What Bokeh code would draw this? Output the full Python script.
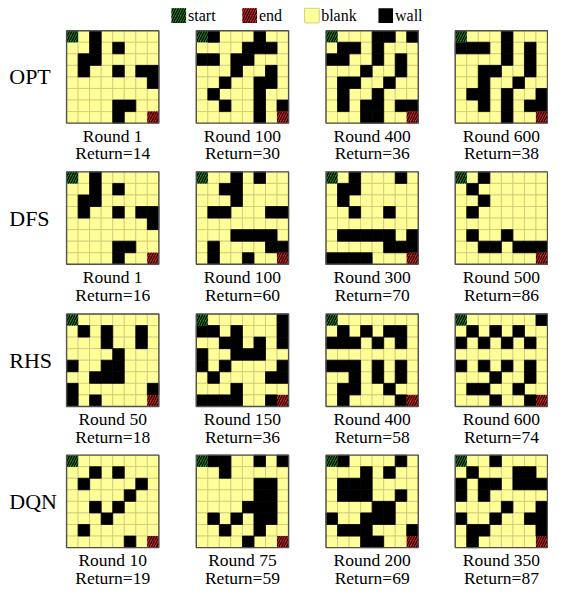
from bokeh.plotting import figure
from bokeh.models import Range1d, ColumnDataSource
from bokeh.core.properties import value
from bokeh.embed import file_html
from bokeh.resources import INLINE

# ---------------- data ----------------
methods = ["OPT", "DFS", "RHS", "DQN"]
rounds = [[1, 100, 400, 600], [1, 100, 300, 500], [50, 150, 400, 600], [10, 75, 200, 350]]
returns = [[14, 30, 36, 38], [16, 60, 70, 86], [18, 36, 58, 74], [19, 59, 69, 87]]

opt_mazes = [
    ["S.#.....", "..#.#...", ".##.....", ".#..#.##", ".......#", "........", "....##..", "....#..E"],
    ["S#...#..", "....###.", "##.##...", "...#..#.", "..#..##.", ".#...#..", "..#..#.#", ".....#.E"],
    ["S...##.#", ".##.#...", "##..#.#.", "...#..#.", ".##..#..", ".#..#...", ".#.##.##", "...##..E"],
    ["S...#...", "###.#.#.", "....#.#.", "..##..#.", "..#..#..", ".##.#..#", "..#.#.##", "....#..E"],
]
dfs_mazes = [
    ["S.#.....", "..#.#...", ".##.....", ".#..#.##", ".......#", "........", "....##..", "....#..E"],
    ["S..#.#..", "..##....", "...#....", ".##...##", "........", "...####.", ".#....##", ".#..#..E"],
    ["S.#...#.", ".##.....", ".#......", "..#..#..", "........", ".#####.#", ".....###", "####...E"],
    ["S.#.....", ".#......", "..#.....", ".#......", "........", ".#..#...", "..##.###", ".......E"],
]
rhs_mazes = [
    ["S.......", ".#.#..#.", "...#..#.", "....#...", "#..##...", "..###...", "#......#", "#.#....E"],
    ["S......#", "##.#...#", "..##.#.#", "#..###..", "#.#....#", ".#....##", "...#....", "####..#E"],
    ["S.......", ".#.#.##.", "###.#.#.", "........", "###.#.#.", "..#.#.#.", ".##..#..", ".#....#E"],
    ["S......#", ".#.#.#..", "#.#.#.#.", "........", "#.#.#.#.", "...#..#.", ".##..#..", "...#..#E"],
]
dqn_mazes = [
    ["S.......", "..#.#...", ".#....#.", ".....#..", "..#.#...", "...#....", ".#......", ".....#.E"],
    ["S##..#.#", "..#.....", ".....##.", ".....##.", "....###.", ".#.#.##.", "..#..#..", "....#..E"],
    ["S#....#.", "...#.#..", ".###....", ".###..#.", "....##..", "#..###..", ".###...#", "...##..E"],
    ["S..#....", ".#...##.", "#.##.###", "#.#.....", "....#..#", "#..#..##", ".##....#", ".#.....E"],
]
all_mazes = [opt_mazes, dfs_mazes, rhs_mazes, dqn_mazes]

legend_labels = ["start", "end", "blank", "wall"]

# ---------------- style / layout ----------------
BLANK = "#ffff99"
WALL = "#000000"
START = "#1e8c1e"
END = "#ff1a1a"
GRIDLINE = "#cfc877"
FONT = value("Liberation Serif")

grid_x0 = [68, 201.5, 335, 468]
grid_y0 = [31, 176, 322, 467]
gsize = 95.0
n = 8
cs = gsize / n

W, H = 548, 588
p = figure(width=W, height=H, output_backend="svg", toolbar_location=None,
           x_range=Range1d(0, 564), y_range=Range1d(604, 0),
           min_border=0, outline_line_color=None)
p.axis.visible = False
p.grid.visible = False
p.background_fill_color = "white"
p.border_fill_color = "white"

cx, cy, cc, cl = [], [], [], []
hx, hy, hc = [], [], []
bx, by = [], []
tx, ty, tt = [], [], []

for i, mazes in enumerate(all_mazes):
    for j, maze in enumerate(mazes):
        x0, y0 = grid_x0[j], grid_y0[i]
        for r, rowstr in enumerate(maze):
            for c, ch in enumerate(rowstr):
                xc = x0 + (c + 0.5) * cs
                yc = y0 + (r + 0.5) * cs
                if ch in "SE":
                    hx.append(xc); hy.append(yc); hc.append(START if ch == "S" else END)
                else:
                    cx.append(xc); cy.append(yc)
                    cc.append(WALL if ch == "#" else BLANK)
                    cl.append(WALL if ch == "#" else GRIDLINE)
        bx.append(x0 + gsize / 2); by.append(y0 + gsize / 2)
        tx += [x0 + gsize / 2, x0 + gsize / 2]
        ty += [y0 + gsize + 13, y0 + gsize + 31]
        tt += [f"Round {rounds[i][j]}", f"Return={returns[i][j]}"]

# blank cells first, then walls on top so walls merge into solid blocks
order = sorted(range(len(cc)), key=lambda k: cc[k] == WALL)
p.rect(x="x", y="y", width=cs, height=cs, fill_color="c", line_color="l", line_width=0.8,
       source=ColumnDataSource(dict(x=[cx[k] for k in order], y=[cy[k] for k in order],
                                    c=[cc[k] for k in order], l=[cl[k] for k in order])))
p.rect(x="x", y="y", width=cs, height=cs, fill_color="c", line_color=None,
       hatch_pattern="/", hatch_color="black", hatch_scale=5, hatch_weight=1.3,
       source=ColumnDataSource(dict(x=hx, y=hy, c=hc)))
p.rect(x=bx, y=by, width=gsize, height=gsize, fill_color=None, line_color="#505050", line_width=1.4)

p.text(x=tx, y=ty, text=tt, text_font=FONT, text_font_size="17.5px",
       text_align="center", text_baseline="alphabetic", text_color="black")

# row labels
p.text(x=[9] * 4, y=[y + gsize / 2 for y in grid_y0], text=methods, text_font=FONT,
       text_font_size="22px", text_align="left", text_baseline="middle", text_color="black")

# legend
lg_x = [176, 249, 313, 389]
lg_y = 15.5
lg_s = 15
lg_fill = [START, END, BLANK, WALL]
p.rect(x=[lg_x[0] + lg_s / 2, lg_x[1] + lg_s / 2], y=[lg_y, lg_y], width=lg_s, height=lg_s,
       fill_color=lg_fill[:2], line_color=None, hatch_pattern="/", hatch_color="black",
       hatch_scale=5, hatch_weight=1.3)
p.rect(x=[lg_x[2] + lg_s / 2, lg_x[3] + lg_s / 2], y=[lg_y, lg_y], width=lg_s, height=lg_s,
       fill_color=lg_fill[2:], line_color=["#d0d080", None])
p.text(x=[x + lg_s + 2 for x in lg_x], y=[lg_y] * 4, text=legend_labels, text_font=FONT,
       text_font_size="16px", text_align="left", text_baseline="middle", text_color="black")

open("out.html", "w").write(file_html(p, INLINE))
